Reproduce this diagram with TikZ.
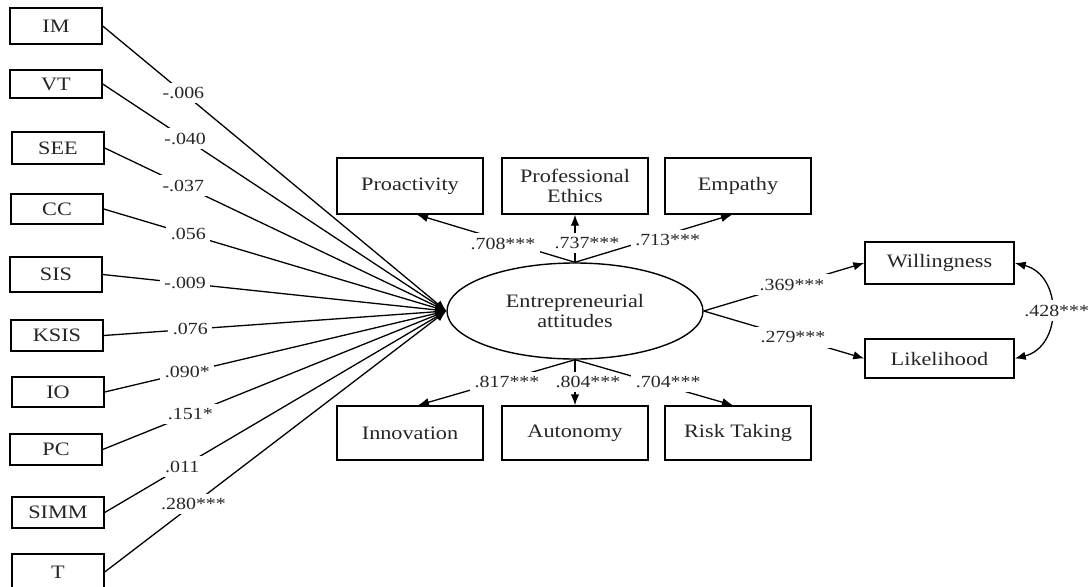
\documentclass[tikz,border=0pt]{standalone}
\usepackage{fontspec}
\setmainfont{Liberation Serif}[FakeStretch=1.17]
\usetikzlibrary{arrows.meta,shapes.geometric}
\begin{document}
\begin{tikzpicture}[x=1pt,y=-1pt,
  box/.style={draw=black,line width=1.4pt,rectangle,inner sep=0pt,text=black!85,font=\fontsize{19}{20}\selectfont,align=center},
  lbox/.style={box,minimum width=92pt},
  cbox/.style={box,minimum width=146pt},
  tip/.style={},
  conn/.style={line width=1.3pt,-{Latex[length=11pt,width=8.5pt]}},
  lab/.style={fill=white,inner sep=4.5pt,text=black!85,font=\fontsize{17}{18}\selectfont}]
\useasboundingbox (0,0) rectangle (1089,586);
\fill[white] (0,0) rectangle (1089,586);
% left boxes
\node[lbox,minimum height=36pt] (im) at (56,26) {IM};
\node[lbox,minimum height=28pt] (vt) at (56,84) {VT};
\node[lbox,minimum height=32pt] (see) at (58,148) {SEE};
\node[lbox,minimum height=30pt] (cc) at (57,209) {CC};
\node[lbox,minimum height=35pt] (sis) at (56,274.5) {SIS};
\node[lbox,minimum height=31pt] (ksis) at (57,335.5) {KSIS};
\node[lbox,minimum height=30pt] (io) at (58,392) {IO};
\node[lbox,minimum height=31pt] (pc) at (56,449.5) {PC};
\node[lbox,minimum height=31pt] (simm) at (58,512.5) {SIMM};
\node[lbox,minimum height=36pt] (t) at (58,572) {T};
% latent
\node[draw,ellipse,line width=1.4pt,minimum width=256pt,minimum height=96pt,inner sep=0pt,align=center,text=black!85,font=\fontsize{19}{20}\selectfont] (ea) at (575,311) {Entrepreneurial\\attitudes};
% top boxes
\node[cbox,minimum height=56pt] (pro) at (410,186) {Proactivity};
\node[cbox,minimum height=56pt] (eth) at (575,186) {Professional\\Ethics};
\node[cbox,minimum height=56pt] (emp) at (738,186) {Empathy};
% bottom boxes
\node[cbox,minimum height=54pt] (inn) at (410,433) {Innovation};
\node[cbox,minimum height=54pt] (aut) at (575,433) {Autonomy};
\node[cbox,minimum height=54pt] (risk) at (738,433) {Risk Taking};
% right boxes
\node[box,minimum width=149pt,minimum height=42pt] (wil) at (939.5,263) {Willingness};
\node[box,minimum width=149pt,minimum height=39pt] (lik) at (939.5,358.5) {Likelihood};
% left connectors
\draw[conn] (im.east) -- node[lab,pos=.235]{-.006} (ea.west);
\draw[conn] (vt.east) -- node[lab,pos=.24]{-.040} (ea.west);
\draw[conn] (see.east) -- node[lab,pos=.23]{-.037} (ea.west);
\draw[conn] (cc.east) -- node[lab,pos=.247]{.056} (ea.west);
\draw[conn] (sis.east) -- node[lab,pos=.24]{-.009} (ea.west);
\draw[conn] (ksis.east) -- node[lab,pos=.253]{.076} (ea.west);
\draw[conn] (io.east) -- node[lab,pos=.242]{.090*} (ea.west);
\draw[conn] (pc.east) -- node[lab,pos=.255]{.151*} (ea.west);
\draw[conn] (simm.east) -- node[lab,pos=.227]{.011} (ea.west);
\draw[conn] (t.east) -- node[lab,pos=.26]{.280***} (ea.west);
% top connectors
\draw[conn] (ea.north) -- node[lab,pos=.456,yshift=-3pt]{.708***} ([xshift=7pt]pro.south);
\draw[conn] (ea.north) -- node[lab,pos=.41,xshift=12pt]{.737***} (eth.south);
\draw[conn] (ea.north) -- node[lab,pos=.59,yshift=-6pt]{.713***} ([xshift=-6pt]emp.south);
% bottom connectors
\draw[conn] (ea.south) -- node[lab,pos=.433,yshift=-3pt]{.817***} ([xshift=8pt]inn.north);
\draw[conn] (ea.south) -- node[lab,pos=.49,xshift=13pt]{.804***} (aut.north);
\draw[conn] (ea.south) -- node[lab,pos=.59,yshift=5pt]{.704***} ([xshift=-5pt]risk.north);
% right connectors
\draw[conn] (ea.east) -- node[lab,pos=.55]{.369***} (wil.west);
\draw[conn] (ea.east) -- node[lab,pos=.556]{.279***} (lik.west);
\draw[line width=1.3pt,{Latex[length=11pt,width=8.5pt]}-{Latex[length=11pt,width=8.5pt]}] (wil.east) .. controls +(48,12) and +(48,-12) .. node[lab,pos=.5,xshift=6pt]{.428***} (lik.east);
\end{tikzpicture}
\end{document}
